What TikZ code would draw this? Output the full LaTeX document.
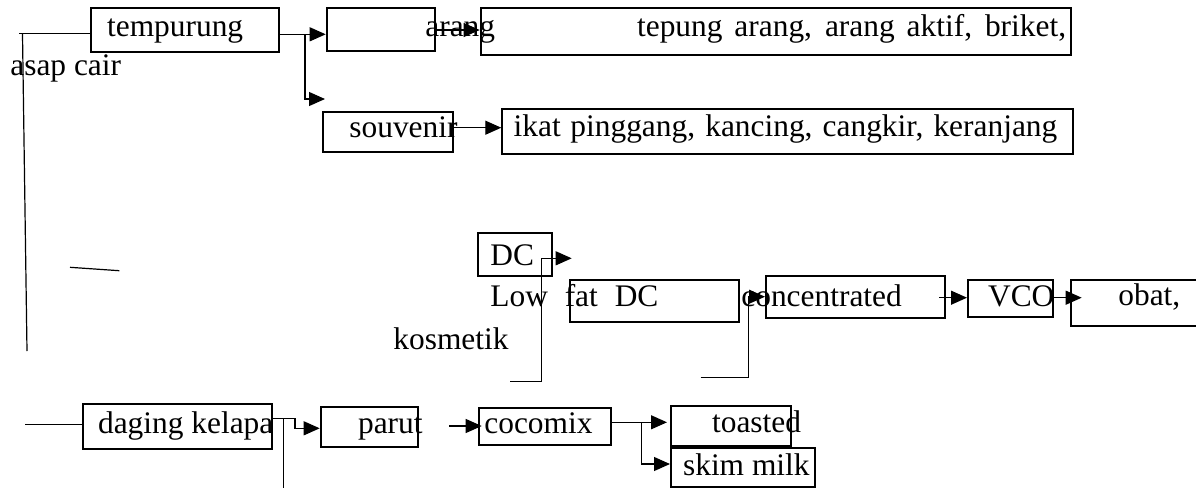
\documentclass[tikz,border=0pt]{standalone}
\usepackage{fontspec}
\setmainfont{Liberation Serif}
\usetikzlibrary{fit,arrows.meta}
\begin{document}
\begin{tikzpicture}[x=0.5pt,y=-0.5pt,
  bx/.style={draw, line width=1pt, inner sep=0pt},
  lbl/.style={inner sep=0pt, anchor=base west, font=\fontsize{15.7}{18}\selectfont},
  ln/.style={line width=0.6pt},
  arr/.style={ln, -{Triangle[length=8pt,width=7pt]}}]
\useasboundingbox (0,0) rectangle (1196,488);

% boxes
\node[bx, fit={(90.7,8.3) (279.3,52.3)}] (tempurung) {};
\node[bx, fit={(326.7,8.3) (435,51)}] (arang) {};
\node[bx, fit={(480.7,8.3) (1070.6,55)}] (tepung) {};
\node[bx, fit={(322.7,111.7) (453.3,152.3)}] (souvenir) {};
\node[bx, fit={(502.3,109.3) (1073,154)}] (ikat) {};
\node[bx, fit={(478.3,233.3) (551.7,275.7)}] (dc) {};
\node[bx, fit={(570,280) (739,321.7)}] (lowfat) {};
\node[bx, fit={(766,275.7) (945.3,317.7)}] (conc) {};
\node[bx, fit={(968,280) (1053,316.7)}] (vco) {};
\node[bx, fit={(1070.5,279.5) (1215,326)}] (obat) {};
\node[bx, fit={(82.7,404.3) (271.7,449.3)}] (daging) {};
\node[bx, fit={(320.7,406.7) (417.7,446.7)}] (parut) {};
\node[bx, fit={(479,408.3) (611,445)}] (cocomix) {};
\node[bx, fit={(671,405.7) (791,445.7)}] (toasted) {};
\node[bx, fit={(671,448.3) (815,487)}] (skim) {};

% texts
\node[lbl] (tTemp) at (106.7,36.7) {tempurung};
\node[lbl] (tAsap) at (10,75) {asap cair};
\node[lbl] (tArang) at (425,36.7) {arang};
\node[lbl] (tTepung) at (636.7,36.7) {\makebox[214.5pt][s]{tepung arang, arang aktif, briket,}};
\node[lbl] (tSouv) at (349,137) {souvenir};
\node[lbl] (tIkat) at (513.3,136.7) {\makebox[271.8pt][s]{ikat pinggang, kancing, cangkir, keranjang}};
\node[lbl] (tDC) at (490,265) {DC};
\node[lbl] (tLow) at (490,306.7) {\makebox[84pt][s]{Low fat DC}};
\node[lbl] (tKos) at (393,349.3) {kosmetik};
\node[lbl] (tConc) at (741,306.7) {concentrated};
\node[lbl] (tVCO) at (987.7,306) {VCO};
\node[lbl] (tObat) at (1118,305) {obat,};
\node[lbl] (tDaging) at (97.7,433.3) {daging kelapa};
\node[lbl] (tParut) at (357.7,433) {parut};
\node[lbl] (tCoco) at (484,433) {cocomix};
\node[lbl] (tToast) at (711.7,432.7) {toasted};
\node[lbl] (tSkim) at (682.7,475) {skim milk};

% free-end coordinates
\coordinate (a0) at (19,33.3);
\coordinate (v0) at (22.5,34);
\coordinate (v1) at (27,351);
\coordinate (s0) at (70,267.3);
\coordinate (s1) at (119.3,270.7);
\coordinate (b1) at (305,34.3);
\coordinate (b1e) at (325,99);
\coordinate (d0) at (510,381.7);
\coordinate (d1) at (541.7,381.7);
\coordinate (d2) at (541.7,258.3);
\coordinate (d3) at (571.7,258.3);
\coordinate (c0) at (700.7,377.3);
\coordinate (c1) at (748.7,377.3);
\coordinate (c2) at (748.7,296.7);
\coordinate (k0) at (939,297.7);
\coordinate (o1) at (1081.7,297.7);
\coordinate (g0) at (25,424.3);
\coordinate (g1) at (271.7,418.3);
\coordinate (g2) at (295,418.3);
\coordinate (g3) at (295,428.3);
\coordinate (h0) at (283.3,418.3);
\coordinate (h1) at (283.3,490);
\coordinate (p0) at (449.3,426);
\coordinate (p1) at (481.7,426);
\coordinate (m0) at (611,422.3);
\coordinate (m1) at (667,422.3);
\coordinate (m2) at (641.7,422.3);
\coordinate (m3) at (670,464);

% connectors
\draw[ln] (a0) -- (a0 -| tempurung.west);
\draw[ln] (v0) -- (v1);
\draw[ln] (s0) -- (s1);
\draw[arr] (tempurung.east |- b1) -- (arang.west |- b1);
\draw[arr] (b1) |- (b1e);
\draw[arr] (arang.east |- 0,30) -- (tepung.west |- 0,30);
\draw[arr] (souvenir.east |- 0,127.7) -- (ikat.west |- 0,127.7);
\draw[arr] (d0) -- (d1) -- (d2) -- (d3);
\draw[arr] (c0) -- (c1) -- (c2) -- (conc.west |- c2);
\draw[arr] (k0) -- (vco.west |- k0);
\draw[arr] (vco.east |- o1) -- (o1);
\draw[ln] (g0) -- (daging.west |- g0);
\draw[arr] (g1) -- (g2) -- (g3) -- (parut.west |- g3);
\draw[ln] (h0) -- (h1);
\draw[arr] (p0) -- (p1);
\draw[arr] (m0) -- (m1);
\draw[arr] (m2) |- (m3);
\end{tikzpicture}
\end{document}
